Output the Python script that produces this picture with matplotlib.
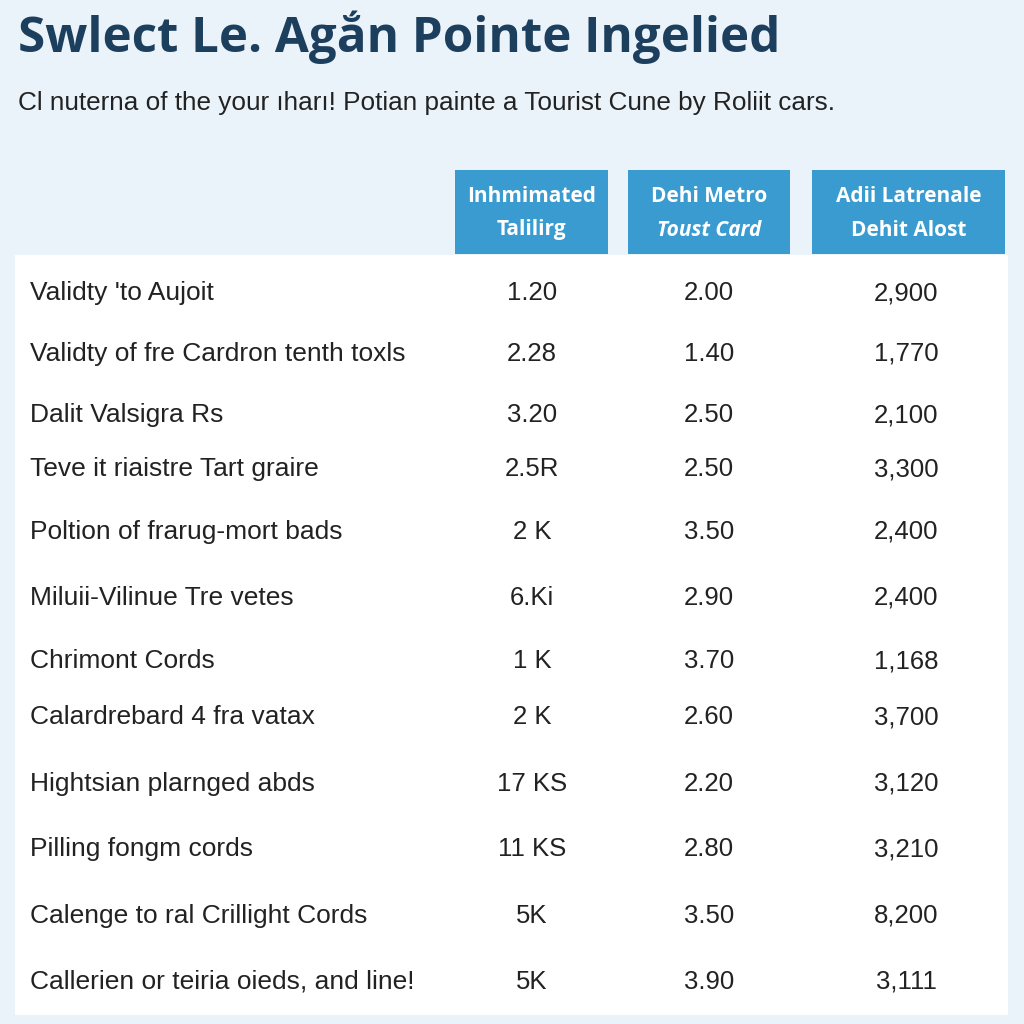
import matplotlib.pyplot as plt
from matplotlib.patches import Rectangle

title = "Swlect Le. Agắn Pointe Ingelied"
subtitle = "Cl nuterna of the your ıharı! Potian painte a Tourist Cune by Roliit cars."

headers = [("Inhmimated", "Talilirg"), ("Dehi Metro", "Toust Card"), ("Adii Latrenale", "Dehit Alost")]

row_labels = [
    "Validty 'to Aujoit",
    "Validty of fre Cardron tenth toxls",
    "Dalit Valsigra Rs",
    "Teve it riaistre Tart graire",
    "Poltion of frarug-mort bads",
    "Miluii-Vilinue Tre vetes",
    "Chrimont Cords",
    "Calardrebard 4 fra vatax",
    "Hightsian plarnged abds",
    "Pilling fongm cords",
    "Calenge to ral Crillight Cords",
    "Callerien or teiria oieds, and line!",
]
col1 = ["1.20", "2.28", "3.20", "2.5R", "2 K", "6.Ki", "1 K", "2 K", "17 KS", "11 KS", "5K", "5K"]
col2 = ["2.00", "1.40", "2.50", "2.50", "3.50", "2.90", "3.70", "2.60", "2.20", "2.80", "3.50", "3.90"]
col3 = ["2,900", "1,770", "2,100", "3,300", "2,400", "2,400", "1,168", "3,700", "3,120", "3,210", "8,200", "3,111"]

row_y = [290, 351, 412, 466, 529, 595, 658, 714, 781, 846, 913, 979]
col_x = [532, 709, 906]

bg = "#eaf2fa"
hdr_col = "#3a9bd0"
txt = "#222222"

fig = plt.figure(figsize=(10.24, 10.24), dpi=100, facecolor=bg)
ax = fig.add_axes([0, 0, 1, 1])
ax.set_xlim(0, 1024)
ax.set_ylim(1024, 0)
ax.axis("off")

ax.text(18, 37, title, fontsize=35.5, fontweight="bold", color="#1d3f5e",
        family="Open Sans", va="center", ha="left")
ax.text(18, 103, subtitle, fontsize=18.8, color="#222222",
        family="Liberation Sans", va="center", ha="left")

# white table body
ax.add_patch(Rectangle((15, 255), 993, 760, facecolor="white", edgecolor="none"))

# header boxes
boxes = [(455, 153), (628, 162), (812, 193)]
for (x0, w), (h1, h2), i in zip(boxes, headers, range(3)):
    ax.add_patch(Rectangle((x0, 170), w, 84, facecolor=hdr_col, edgecolor="none"))
    cx = x0 + w / 2
    ax.text(cx, 197, h1, fontsize=15, fontweight="bold", color="white",
            family="Open Sans", ha="center", va="center")
    ax.text(cx, 230, h2, fontsize=15, fontweight="bold", color="white",
            family="Open Sans", ha="center", va="center",
            style="italic" if i == 1 else "normal")

for y, lab, a, b, c in zip(row_y, row_labels, col1, col2, col3):
    ax.text(30, y + 10, lab, fontsize=19, color=txt, family="Liberation Sans",
            ha="left", va="baseline")
    for x, v in zip(col_x, (a, b, c)):
        ax.text(x, y + 10, v, fontsize=18.5, color=txt, family="Liberation Sans",
                ha="center", va="baseline")

fig.savefig("out.png", dpi=100, facecolor=bg)
